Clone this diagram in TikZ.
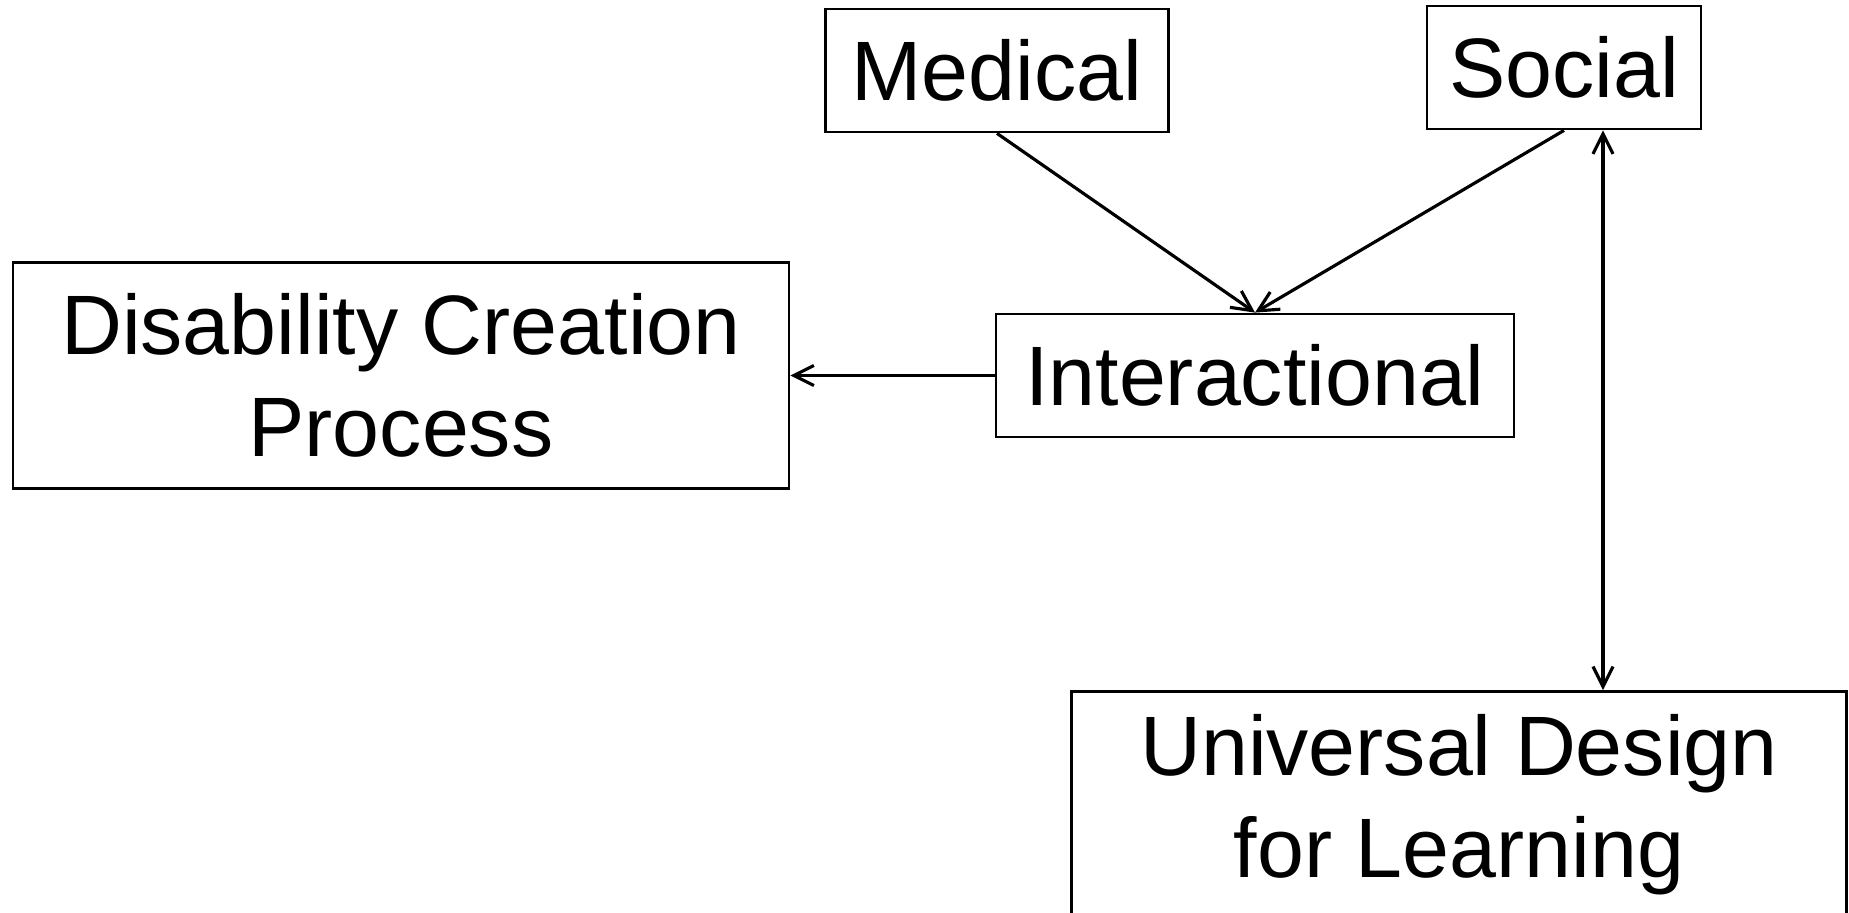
\documentclass[tikz,border=0pt]{standalone}
\usepackage{fontspec}
\setmainfont{Liberation Sans}
\usetikzlibrary{arrows.meta}

\begin{document}
\begin{tikzpicture}[>={Straight Barb[length=2mm, width=2mm]}, line width=0.9pt, box/.style={draw, line width=0.8pt, align=center, inner sep=0pt, font=\fontsize{24}{29}\selectfont}]
	\useasboundingbox (0,0) rectangle (18.49,-9.13);
	\node[box, minimum width=3.43cm, minimum height=1.23cm] (medical) at (9.97,-0.705) {Medical}; 
	\node[box, minimum width=2.74cm, minimum height=1.23cm] (social) at (15.64,-0.675) {Social}; 
	\node[box, minimum width=5.18cm, minimum height=1.23cm] (interact) at (12.55,-3.755) {Interactional}; 
	\node[box, minimum width=7.76cm, minimum height=2.26cm] (dcp) at (4.01,-3.755) {Disability Creation\\Process}; 
	\node[box, minimum width=7.75cm, minimum height=2.27cm] (udl) at (14.59,-8.05) {Universal Design\\for Learning}; 
	\draw[->] (medical.south) -- (interact.north); 
	\draw[->] (social.south) -- (interact.north); 
	\draw[->] (interact.west) -- (dcp.east); 
	\draw[<->] ([xshift=3.9mm]social.south) -- ([xshift=3.9mm]social.south |- udl.north); 
\end{tikzpicture}
\end{document}
